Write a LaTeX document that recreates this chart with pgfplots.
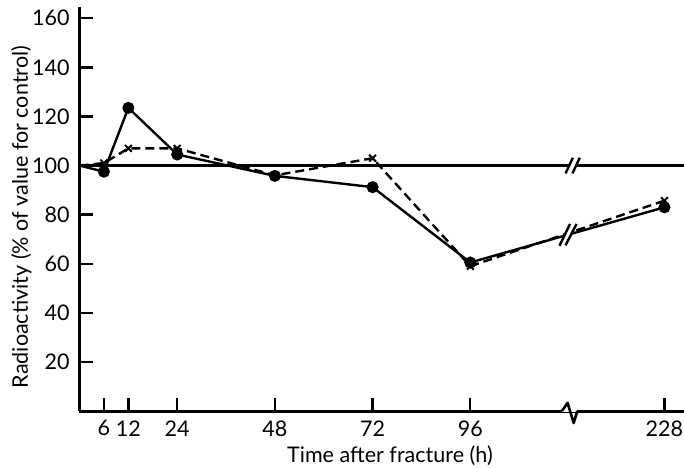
\documentclass[border=0pt]{standalone}
\usepackage{pgfplots}
\pgfplotsset{compat=1.18}
\usepackage{fontspec}
\setmainfont{Lato}
\begin{document}
\fontsize{10.8pt}{13pt}\selectfont
\begin{tikzpicture}
\begin{axis}[
  name=ax,
  scale only axis, width=302.25bp, height=202bp,
  xmin=0, xmax=148.5, ymin=0, ymax=164.6,
  axis lines=left, axis line style={-, line width=1.5bp},
  tick align=inside, major tick length=6.5bp,
  tick style={line width=1.2bp, black},
  xtick={6,12,24,48,72,96,143.7}, xticklabels={6,12,24,48,72,96,228},
  ytick={20,40,60,80,100,120,140,160},
  /pgf/number format/assume math mode=true,
  xticklabel style={yshift=-1pt},
  yticklabel style={xshift=-1.2pt},
  clip=false,
  xlabel={Time after fracture (h)},
  ylabel={Radioactivity (\% of value for control)},
  xlabel style={at={(axis description cs:0.5136,-0.11)}, anchor=center},
  ylabel style={at={(axis description cs:-0.096,0.48)}, anchor=center},
]
% control line (100 %)
\addplot[black, line width=1.1bp, no marks] coordinates {(0,100) (148.5,100)};
% dashed series (crosses); 228 h drawn at broken-axis position 143.7
\addplot[black, line width=1.2bp, dash pattern=on 4.5bp off 2.5bp, mark=x, mark size=2.4bp,
  mark options={solid, line width=1bp}, mark indices={2,3,4,5,6,7,8}]
  coordinates {(0,100) (6,101) (12,107) (24,107) (48,96) (72,103) (96,59) (143.7,85.7)};
% solid series (filled circles)
\addplot[black, line width=1.2bp, mark=*, mark size=2.4bp, mark options={solid, fill=black},
  mark indices={2,3,4,5,6,7,8}]
  coordinates {(0,100) (6,97.5) (12,123.5) (24,104.5) (48,95.8) (72,91.2) (96,60.5) (143.7,83)};
\coordinate (za) at (axis cs:118.5,0);
\coordinate (zb) at (axis cs:119.9,3.3);
\coordinate (zc) at (axis cs:121.4,-4.9);
\coordinate (zd) at (axis cs:122.3,0);
\coordinate (zw1) at (axis cs:118.5,-0.5);
\coordinate (zw2) at (axis cs:122.3,0.5);
\coordinate (h1a) at (axis cs:119.4,96.8);
\coordinate (h1b) at (axis cs:121.2,103.2);
\coordinate (h2a) at (axis cs:121.1,96.8);
\coordinate (h2b) at (axis cs:122.9,103.2);
\coordinate (d1a) at (axis cs:117.9,67.3);
\coordinate (d1b) at (axis cs:120.5,76.2);
\coordinate (d2a) at (axis cs:119.4,67.5);
\coordinate (d2b) at (axis cs:122.1,76.2);
\end{axis}
\fill[white] (zw1) rectangle (zw2);
\draw[line width=1.3bp, line join=round] (za)--(zb)--(zc)--(zd);
\fill[white] (h1a)--(h2a)--(h2b)--(h1b)--cycle;
\draw[line width=1.2bp] (h1a)--(h1b) (h2a)--(h2b);
\fill[white] (d1a)--(d2a)--(d2b)--(d1b)--cycle;
\draw[line width=1.2bp] (d1a)--(d1b) (d2a)--(d2b);
\pgfresetboundingbox
\path ([xshift=-39.75bp,yshift=-28.5bp]ax.south west) rectangle ([yshift=3.5bp]ax.north east);
\end{tikzpicture}
\end{document}
